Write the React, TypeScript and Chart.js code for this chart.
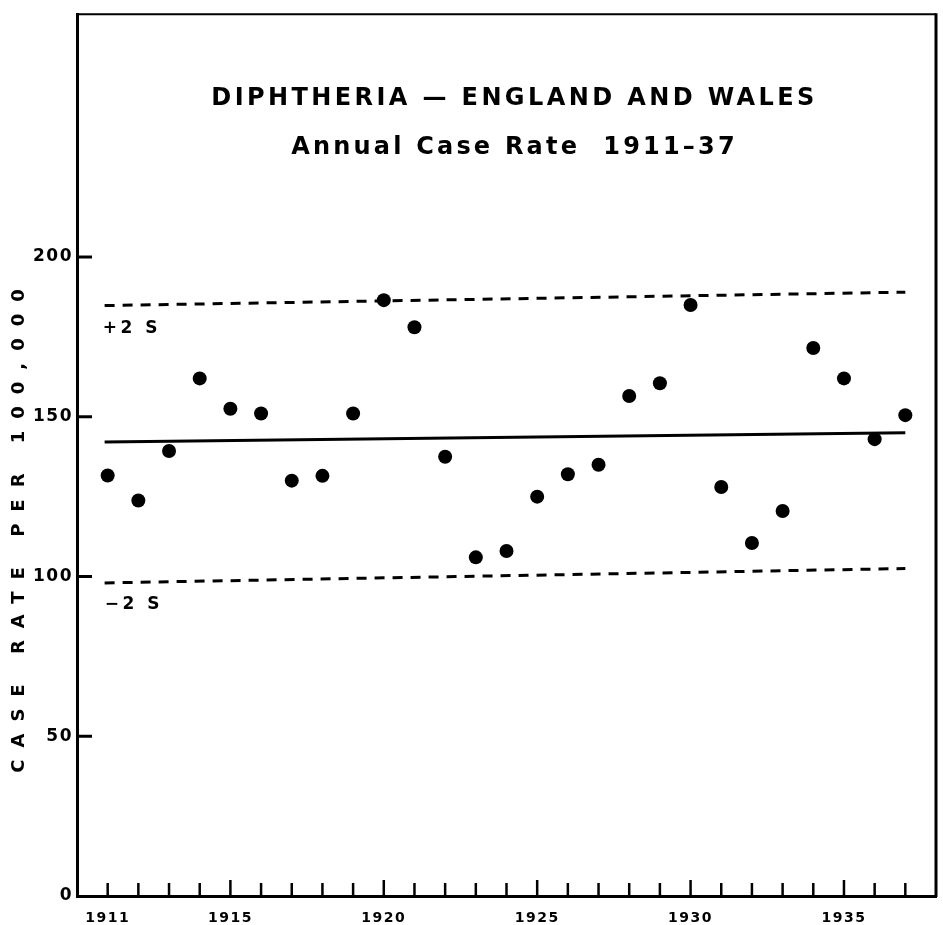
import React, { useEffect, useRef } from 'react';
import { Chart, registerables } from 'chart.js';

Chart.register(...registerables);

// ---- data ----
const years = [
  1911, 1912, 1913, 1914, 1915, 1916, 1917, 1918, 1919, 1920,
  1921, 1922, 1923, 1924, 1925, 1926, 1927, 1928, 1929, 1930,
  1931, 1932, 1933, 1934, 1935, 1936, 1937,
];
const caseRates = [
  131.6, 123.8, 139.3, 162, 152.5, 151, 130, 131.5, 151, 186.5,
  178, 137.5, 106, 108, 125, 132, 135, 156.5, 160.5, 185,
  128, 110.5, 120.5, 171.5, 162, 143, 150.5,
];
const xTickLabels = [1911, 1915, 1920, 1925, 1930, 1935];
const yTickValues = [0, 50, 100, 150, 200];
const limitYears = [1910.9, 1937];
const meanLine = [142.1, 145];
const upperLine = [184.8, 189];
const lowerLine = [98, 102.5];
const titleLines = ['DIPHTHERIA \u2014 ENGLAND AND WALES', 'Annual Case Rate  1911\u201337'];
const yAxisTitle = 'CASE RATE PER 100,000';
const upperLabel = '+2 S';
const lowerLabel = '\u22122 S';

const FONT = '"DejaVu Sans", sans-serif';

const decorPlugin = {
  id: 'decor',
  beforeUpdate(chart: any) {
    chart.ctx.letterSpacing = '1.5px';
  },
  beforeDraw(chart: any) {
    const ctx = chart.ctx;
    ctx.save();
    ctx.fillStyle = '#fff';
    ctx.fillRect(0, 0, chart.width, chart.height);
    ctx.restore();
    ctx.letterSpacing = '1.5px';
  },
  afterDraw(chart: any) {
    const { ctx, chartArea, scales } = chart;
    const { left, top, right, bottom } = chartArea;
    const x = scales.x;
    const y = scales.y;
    ctx.save();
    ctx.strokeStyle = '#000';
    ctx.fillStyle = '#000';
    ctx.lineCap = 'butt';

    // top and right frame
    ctx.lineWidth = 2;
    ctx.beginPath();
    ctx.moveTo(left - 1, top);
    ctx.lineTo(right, top);
    ctx.stroke();
    ctx.lineWidth = 3;
    ctx.beginPath();
    ctx.moveTo(right, top - 1);
    ctx.lineTo(right, bottom + 1);
    ctx.stroke();

    // inward year ticks
    ctx.lineWidth = 2.5;
    years.forEach((yr) => {
      const px = x.getPixelForValue(yr);
      const len = yr % 5 === 0 ? 16 : 13;
      ctx.beginPath();
      ctx.moveTo(px, bottom);
      ctx.lineTo(px, bottom - len);
      ctx.stroke();
    });

    // inward value ticks
    ctx.lineWidth = 3;
    yTickValues.filter((v) => v > 0).forEach((v) => {
      const py = y.getPixelForValue(v);
      ctx.beginPath();
      ctx.moveTo(left, py);
      ctx.lineTo(left + 15, py);
      ctx.stroke();
    });

    // title
    ctx.textAlign = 'center';
    ctx.textBaseline = 'middle';
    const cx = (left + right) / 2 + 8;
    ctx.font = `bold 24px ${FONT}`;
    ctx.letterSpacing = '3.4px';
    ctx.fillText(titleLines[0], cx, top + 85);
    ctx.letterSpacing = '3.2px';
    ctx.fillText(titleLines[1], cx, top + 134);

    // limit labels
    ctx.textAlign = 'left';
    ctx.font = `bold 17px ${FONT}`;
    ctx.letterSpacing = '3.5px';
    const x0 = x.getPixelForValue(years[0]);
    ctx.fillText(upperLabel, x0 - 5, y.getPixelForValue(upperLine[0]) + 23);
    ctx.fillText(lowerLabel, x0 - 3, y.getPixelForValue(lowerLine[0]) + 22);

    // y axis title
    ctx.save();
    ctx.translate(19, 531);
    ctx.rotate(-Math.PI / 2);
    ctx.textAlign = 'center';
    ctx.font = `bold 18px ${FONT}`;
    ctx.letterSpacing = '12px';
    ctx.fillText(yAxisTitle, 6, 0);
    ctx.restore();

    ctx.restore();
  },
};

export default function App() {
  const canvasRef = useRef<HTMLCanvasElement | null>(null);

  useEffect(() => {
    const canvas = canvasRef.current;
    if (!canvas) return;
    const lineDs = (vals: number[], dash: number[]) => ({
      type: 'scatter',
      data: [
        { x: limitYears[0], y: vals[0] },
        { x: limitYears[1], y: vals[1] },
      ],
      showLine: true,
      borderColor: '#000',
      borderWidth: 3,
      borderDash: dash,
      pointRadius: 0,
      fill: false,
    });
    const chart = new Chart(canvas, {
      type: 'scatter',
      data: {
        datasets: [
          {
            data: years.map((yr, i) => ({ x: yr, y: caseRates[i] })),
            backgroundColor: '#000',
            borderColor: '#000',
            borderWidth: 0,
            pointRadius: 7,
          },
          lineDs(meanLine, []),
          lineDs(upperLine, [10, 8]),
          lineDs(lowerLine, [10, 8]),
        ] as any,
      },
      options: {
        animation: false,
        responsive: false,
        devicePixelRatio: 1,
        layout: { padding: { top: 8, right: 5, left: 0, bottom: 0 } },
        plugins: {
          legend: { display: false },
          tooltip: { enabled: false },
          title: { display: false },
        },
        scales: {
          x: {
            type: 'linear',
            position: 'bottom',
            min: 1910,
            max: 1938,
            grid: { display: false, drawTicks: false },
            border: { display: true, color: '#000', width: 3 },
            ticks: {
              autoSkip: false,
              maxRotation: 0,
              color: '#000',
              padding: 14,
              font: { family: FONT, size: 14, weight: 'bold' },
              callback: (v: any) => String(v),
            },
            afterBuildTicks: (scale: any) => {
              scale.ticks = xTickLabels.map((v) => ({ value: v }));
            },
            afterFit: (scale: any) => {
              scale.height = 29;
            },
          },
          y: {
            type: 'linear',
            min: 0,
            max: 276,
            grid: { display: false, drawTicks: false },
            border: { display: true, color: '#000', width: 3 },
            ticks: {
              color: '#000',
              padding: 4,
              font: { family: FONT, size: 17, weight: 'bold' },
              callback: (v: any) => String(v),
            },
            afterBuildTicks: (scale: any) => {
              scale.ticks = yTickValues.map((v) => ({ value: v }));
            },
            afterFit: (scale: any) => {
              scale.width = 77;
            },
          },
        },
      } as any,
      plugins: [decorPlugin],
    });
    return () => chart.destroy();
  }, []);

  return (
    <div style={{ position: 'fixed', left: 0, top: 0, width: 943, height: 925, background: '#fff' }}>
      <canvas ref={canvasRef} width={943} height={925} style={{ display: 'block' }} />
    </div>
  );
}
